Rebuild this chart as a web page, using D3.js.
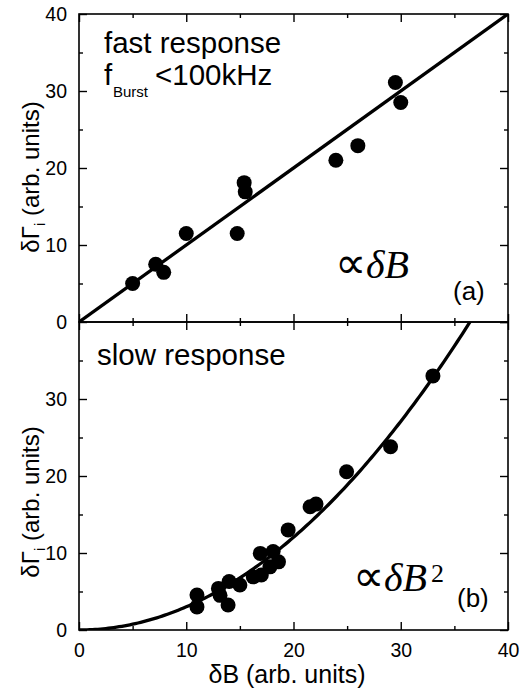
<!DOCTYPE html>
<html>
<head>
<meta charset="utf-8">
<script src="https://cdn.jsdelivr.net/npm/d3@7"></script>
<style>
  body { margin: 0; background: #fff; }
  svg { display: block; }
  text { font-family: "Liberation Sans", Arial, sans-serif; fill: #000; }
  .serif { font-family: "Liberation Serif", "Times New Roman", serif; }
</style>
</head>
<body>
<svg id="chart" width="524" height="688"></svg>
<script>
// panel (a): fast response
const fastB = [5, 7.15, 7.9, 10.0, 14.75, 15.4, 15.5, 23.95, 26.0, 29.5, 30.0];
const fastG = [5, 7.5, 6.45, 11.5, 11.5, 18.1, 16.9, 21.0, 22.9, 31.1, 28.5];
// panel (b): slow response
const slowB = [11.0, 11.0, 13.0, 13.15, 14.0, 13.9, 15.0, 16.25, 17.0, 16.9, 18.1, 17.8, 18.6, 19.5, 21.55, 22.1, 24.95, 29.05, 33.0];
const slowG = [4.55, 3.0, 5.4, 4.5, 6.3, 3.25, 5.85, 6.9, 7.15, 9.95, 10.2, 8.2, 8.85, 13.0, 16.0, 16.35, 20.55, 23.8, 33.0];
// fit curves: linear slope and quadratic coefficient
const linSlope = 1.0;
const quadCoef = 0.0301;
const xTicks = [0, 10, 20, 30, 40];
const yTicksTop = [0, 10, 20, 30, 40];
const yTicksBot = [0, 10, 20, 30];
const minorTicks = [5, 15, 25, 35];

const svg = d3.select("#chart");
const pLeft = 79, pRight = 508, pTop = 14, pMid = 322, pBottom = 630;

const x = d3.scaleLinear().domain([0, 40]).range([pLeft, pRight]);
const yA = d3.scaleLinear().domain([0, 40]).range([pMid, pTop]);
const yB = d3.scaleLinear().domain([0, 40]).range([pBottom, pMid]);

function panel(y, id, yTicks, showX) {
  const g = svg.append("g");
  const [y0, y1] = y.range();

  svg.append("clipPath").attr("id", id)
    .append("rect").attr("x", pLeft).attr("y", y1)
    .attr("width", pRight - pLeft).attr("height", y0 - y1);

  const mk = (axis, tx, ty, vals, size, labels) => {
    const a = g.append("g").attr("transform", `translate(${tx},${ty})`)
      .call(axis.tickValues(vals).tickSize(size).tickPadding(12)
        .tickFormat(labels ? d3.format("d") : ""));
    a.select(".domain").remove();
    a.selectAll("line").attr("stroke", "#000").attr("stroke-width", 1.4);
    a.selectAll("text").style("font-size", "19.5px")
      .style("font-family", "Liberation Sans, Arial, sans-serif");
    return a;
  };

  mk(d3.axisLeft(y), pLeft, 0, yTicks, -8, true);
  mk(d3.axisLeft(y), pLeft, 0, minorTicks, -4, false);
  mk(d3.axisRight(y), pRight, 0, xTicks, -8, false);
  mk(d3.axisRight(y), pRight, 0, minorTicks, -4, false);
  const bx = mk(d3.axisBottom(x), 0, y0, xTicks, -8, showX);
  if (showX) bx.selectAll("text").attr("dy", "0.71em").attr("y", 13);
  mk(d3.axisBottom(x), 0, y0, minorTicks, -4, false);
  mk(d3.axisTop(x), 0, y1, xTicks, -8, false);
  mk(d3.axisTop(x), 0, y1, minorTicks, -4, false);

  g.append("rect").attr("x", pLeft).attr("y", y1)
    .attr("width", pRight - pLeft).attr("height", y0 - y1)
    .attr("fill", "none").attr("stroke", "#000").attr("stroke-width", 1.6);

  return g.append("g").attr("clip-path", `url(#${id})`);
}

const gA = panel(yA, "clipA", yTicksTop, false);
const gB = panel(yB, "clipB", yTicksBot, true);

// fit lines
const line = (y, f) => d3.line().x(d => x(d)).y(d => y(f(d)));
gA.append("path").datum([0, 40])
  .attr("d", line(yA, b => linSlope * b))
  .attr("fill", "none").attr("stroke", "#000").attr("stroke-width", 3.3);
gB.append("path").datum(d3.range(0, 40.01, 0.25))
  .attr("d", line(yB, b => quadCoef * b * b))
  .attr("fill", "none").attr("stroke", "#000").attr("stroke-width", 3.3);

// data points
gA.selectAll("circle").data(d3.zip(fastB, fastG)).join("circle")
  .attr("cx", d => x(d[0])).attr("cy", d => yA(d[1])).attr("r", 7.5).attr("fill", "#000");
gB.selectAll("circle").data(d3.zip(slowB, slowG)).join("circle")
  .attr("cx", d => x(d[0])).attr("cy", d => yB(d[1])).attr("r", 7.5).attr("fill", "#000");

// annotations
svg.append("text").attr("x", 104).attr("y", 53).style("font-size", "29.5px").text("fast response");
svg.append("text").attr("x", 104).attr("y", 85).style("font-size", "29.5px").text("f");
svg.append("text").attr("x", 113).attr("y", 97).style("font-size", "15px").text("Burst");
svg.append("text").attr("x", 155).attr("y", 85).style("font-size", "29.5px").text("<100kHz");
svg.append("text").attr("x", 97).attr("y", 365).style("font-size", "29.5px").text("slow response");

const prop = (tx, ty, sup) => {
  const t = svg.append("text").attr("class", "serif").attr("x", tx).attr("y", ty)
    .style("font-size", "40px");
  t.append("tspan").style("font-size", "44px").text("\u221D");
  t.append("tspan").style("font-style", "italic").text("\u03B4B");
  if (sup) t.append("tspan").attr("dx", 4).attr("dy", -9).style("font-size", "26px").text(sup);
};
prop(335, 278, null);
prop(353, 591, "2");

svg.append("text").attr("x", 453).attr("y", 300).style("font-size", "26px").text("(a)");
svg.append("text").attr("x", 457).attr("y", 607).style("font-size", "26px").text("(b)");

// axis titles
svg.append("text").attr("x", 287).attr("y", 683).attr("text-anchor", "middle")
  .style("font-size", "25px").text("\u03B4B (arb. units)");

const yTitle = cy => {
  const t = svg.append("text").attr("transform", `translate(39,${cy}) rotate(-90)`)
    .attr("text-anchor", "middle").style("font-size", "24px");
  t.append("tspan").text("\u03B4\u0393");
  t.append("tspan").attr("dy", 6).style("font-size", "15px").text("i");
  t.append("tspan").attr("dy", -6).text(" (arb. units)");
};
yTitle(177);
yTitle(502);
</script>
</body>
</html>
